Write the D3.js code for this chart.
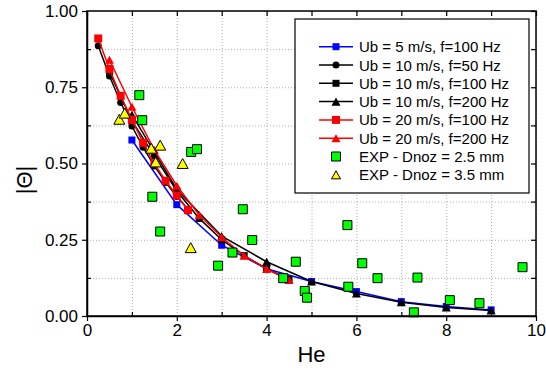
<!DOCTYPE html>
<html><head><meta charset="utf-8">
<script src="https://cdn.jsdelivr.net/npm/d3@7"></script>
<style>
body{margin:0;background:#fff;}
svg{display:block;font-family:"Liberation Sans",Arial,sans-serif;}
</style></head>
<body><svg id="c" width="546" height="374"></svg>
<script>
// ---- data ----
const heBlue = [1,2,3,4,5,6,7,8,9];
const valBlue = [0.577,0.365,0.232,0.155,0.113,0.080,0.047,0.031,0.020];
const heStep025 = [0.25,0.5,0.75,1.0,1.25,1.5,1.75,2.0,2.25];
const heStep05 = [0.5,1.0,1.5,2.0,2.5,3.0,3.5,4.0,4.5];
const heStep1 = [1,2,3,4,5,6,7,8,9];
const valBlackCircle = [0.886,0.787,0.700,0.623,0.553,0.492,0.438,0.392,0.350];
const valBlackSquare = [0.800,0.640,0.525,0.410,0.320,0.250,0.198,0.155,0.120];
const valBlackTriangle = [0.660,0.415,0.262,0.178,0.113,0.074,0.045,0.028,0.018];
const valRedSquare = [0.910,0.810,0.722,0.643,0.568,0.500,0.443,0.395,0.347];
const valRedTriangle = [0.840,0.686,0.545,0.427,0.331,0.258,0.198,0.154,0.118];
const heExp25 = [1.165,1.23,2.32,2.45,1.455,1.63,2.92,3.24,3.47,3.68,4.37,4.65,4.85,4.9,5.8,5.82,6.13,6.47,7.28,7.36,8.08,8.74,9.70];
const valExp25 = [0.724,0.642,0.538,0.547,0.391,0.277,0.165,0.208,0.350,0.249,0.124,0.178,0.082,0.060,0.298,0.096,0.173,0.124,0.012,0.126,0.052,0.042,0.160];
const heExp35 = [0.72,0.84,1.43,1.63,1.53,2.13,2.31];
const valExp35 = [0.645,0.665,0.550,0.560,0.505,0.500,0.224];
const xTicks = [0,2,4,6,8,10];
const yTicks = [0,0.25,0.5,0.75,1.0];
const legendLabels = ["Ub = 5 m/s, f=100 Hz","Ub = 10 m/s, f=50 Hz","Ub = 10 m/s, f=100 Hz","Ub = 10 m/s, f=200 Hz","Ub = 20 m/s, f=100 Hz","Ub = 20 m/s, f=200 Hz","EXP - Dnoz = 2.5 mm","EXP - Dnoz = 3.5 mm"];

const series = [
  {he:heBlue, v:valBlue, color:"#0000ff", marker:"square", fill:"#0000ff", size:7, line:true},
  {he:heStep025, v:valBlackCircle, color:"#000", marker:"circle", fill:"#000", size:7, line:true},
  {he:heStep05, v:valBlackSquare, color:"#000", marker:"square", fill:"#000", size:7, line:true},
  {he:heStep1, v:valBlackTriangle, color:"#000", marker:"triangle", fill:"#000", size:9, line:true},
  {he:heStep025, v:valRedSquare, color:"#ff0000", marker:"square", fill:"#ff0000", size:8, line:true},
  {he:heStep05, v:valRedTriangle, color:"#ff0000", marker:"triangle", fill:"#ff0000", size:9, line:true},
  {he:heExp25, v:valExp25, color:"#000", marker:"square", fill:"#00ff00", size:9, line:false, stroke:"#000"},
  {he:heExp35, v:valExp35, color:"#000", marker:"triangle", fill:"#ffff00", size:11, line:false, stroke:"#000"}
];

const svg = d3.select("#c");
const L=87,R=536,T=11,B=316;
const x = d3.scaleLinear().domain([0,10]).range([L,R]);
const y = d3.scaleLinear().domain([0,1]).range([B,T]);

// grid
const gx = d3.range(0,11,1), gy = d3.range(0,1.0001,0.125);
svg.append("g").attr("transform",`translate(0,${B})`)
  .call(d3.axisBottom(x).tickValues(gx).tickSize(-(B-T)).tickFormat(""))
  .call(g=>{g.select(".domain").remove(); g.selectAll("line").attr("stroke","#b0b0b0").attr("stroke-dasharray","1,2");});
svg.append("g").attr("transform",`translate(${L},0)`)
  .call(d3.axisLeft(y).tickValues(gy).tickSize(-(R-L)).tickFormat(""))
  .call(g=>{g.select(".domain").remove(); g.selectAll("line").attr("stroke","#b0b0b0").attr("stroke-dasharray","1,2");});

function markerPath(type,s){
  if(type==="square") return `M${-s/2},${-s/2}h${s}v${s}h${-s}Z`;
  if(type==="circle") { const r=s/2; return `M${r},0A${r},${r} 0 1,1 ${-r},0A${r},${r} 0 1,1 ${r},0Z`; }
  const h=s*0.9; return `M0,${-h/2}L${s/2},${h/2}L${-s/2},${h/2}Z`;
}

const plot = svg.append("g");
series.forEach(s=>{
  const pts = s.he.map((h,i)=>[h,s.v[i]]);
  if(s.line){
    plot.append("path").datum(pts)
      .attr("d", d3.line().x(d=>x(d[0])).y(d=>y(d[1])))
      .attr("fill","none").attr("stroke",s.color).attr("stroke-width",1.5);
  }
  plot.append("g").selectAll("path").data(pts).join("path")
    .attr("transform",d=>`translate(${x(d[0])},${y(d[1])})`)
    .attr("d",markerPath(s.marker,s.size))
    .attr("fill",s.fill)
    .attr("stroke",s.stroke||"none").attr("stroke-width",s.stroke?1:0);
});

// axes
const font = "Liberation Sans, Arial, sans-serif";
const ax = svg.append("g").attr("transform",`translate(0,${B})`)
  .call(d3.axisBottom(x).tickValues(xTicks).tickSize(5).tickSizeOuter(0).tickPadding(3).tickFormat(d3.format("d")));
ax.selectAll("text").attr("font-size",17).attr("font-family",font).attr("fill","#000");
svg.append("g").attr("transform",`translate(0,${B})`)
  .call(d3.axisBottom(x).tickValues(d3.range(1,10,2)).tickSize(-4).tickSizeOuter(0).tickFormat(""))
  .call(g=>g.select(".domain").remove());
const ay = svg.append("g").attr("transform",`translate(${L},0)`)
  .call(d3.axisLeft(y).tickValues(yTicks).tickSize(5).tickSizeOuter(0).tickPadding(4).tickFormat(d3.format(".2f")));
ay.selectAll("text").attr("font-size",17).attr("font-family",font).attr("fill","#000");
svg.append("g").attr("transform",`translate(${L},0)`)
  .call(d3.axisLeft(y).tickValues([0.125,0.375,0.625,0.875]).tickSize(-4).tickSizeOuter(0).tickFormat(""))
  .call(g=>g.select(".domain").remove());
svg.append("g").attr("transform",`translate(0,${T})`)
  .call(d3.axisTop(x).tickValues(gx).tickSize(-5).tickSizeOuter(0).tickFormat(""))
  .call(g=>g.select(".domain").remove());
svg.append("g").attr("transform",`translate(${R},0)`)
  .call(d3.axisRight(y).tickValues(gy).tickSize(-5).tickSizeOuter(0).tickFormat(""))
  .call(g=>g.select(".domain").remove());
svg.selectAll(".tick line").filter(function(){return !this.getAttribute("stroke-dasharray");}).attr("stroke","#000").attr("stroke-width",1.2);
svg.append("rect").attr("x",L).attr("y",T).attr("width",R-L).attr("height",B-T)
  .attr("fill","none").attr("stroke","#000").attr("stroke-width",1.5);
svg.selectAll(".domain").attr("stroke","#000").attr("stroke-width",1.5);

// titles
svg.append("text").attr("x",(L+R)/2).attr("y",362).attr("text-anchor","middle")
  .attr("font-size",22).attr("font-family",font).text("He");
svg.append("text").attr("transform","translate(24,180) rotate(-90)").attr("text-anchor","middle")
  .attr("dominant-baseline","central").attr("font-size",22).attr("font-family",font).text("|Θ|");

// legend
const lg = svg.append("g");
lg.append("rect").attr("x",295).attr("y",19).attr("width",234).attr("height",174)
  .attr("fill","#fff").attr("stroke","#000").attr("stroke-width",1.2);
series.forEach((s,i)=>{
  const yy = 46.7 + i*18.3;
  if(s.line) lg.append("line").attr("x1",319).attr("x2",353).attr("y1",yy).attr("y2",yy)
    .attr("stroke",s.color).attr("stroke-width",1.5);
  lg.append("path").attr("transform",`translate(336,${yy})`).attr("d",markerPath(s.marker,Math.min(s.size,9)))
    .attr("fill",s.fill).attr("stroke",s.stroke||"none").attr("stroke-width",s.stroke?1:0);
  lg.append("text").attr("x",359).attr("y",yy).attr("dominant-baseline","central")
    .attr("font-size",15).attr("font-family",font).text(legendLabels[i]);
});
</script></body></html>
